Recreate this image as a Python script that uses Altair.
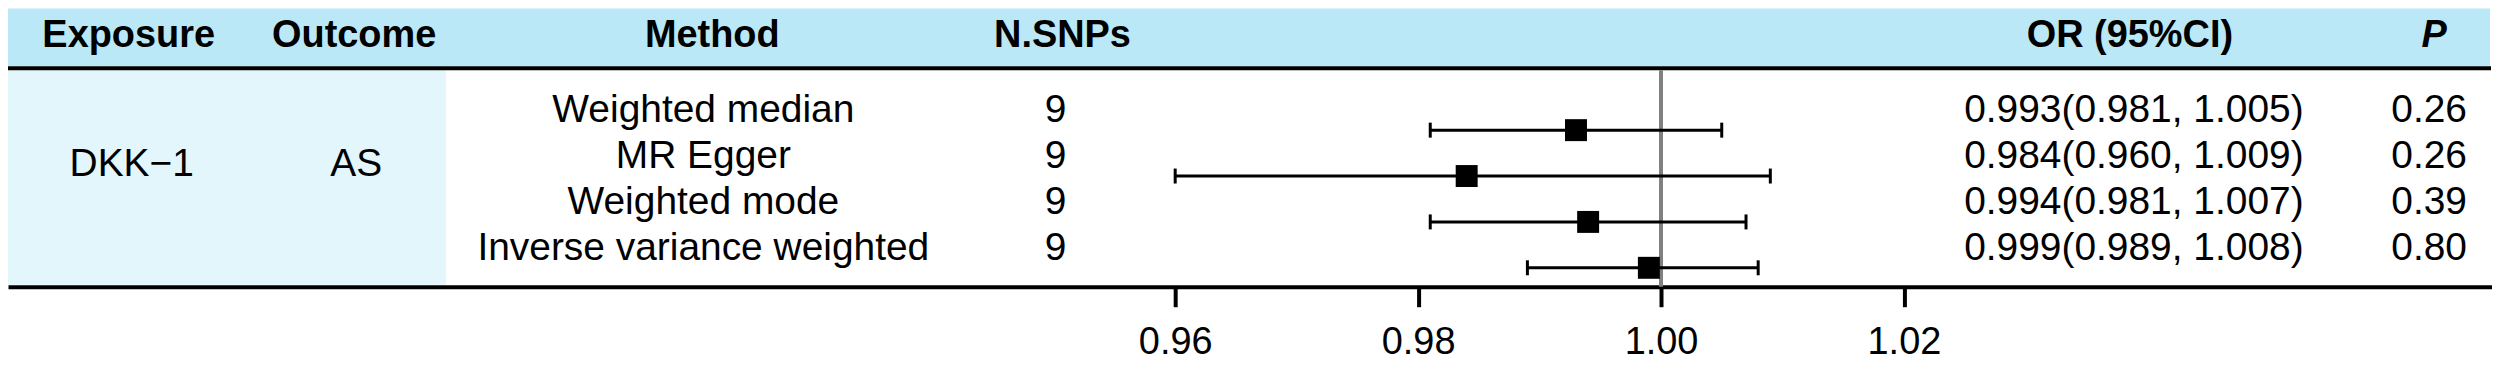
import altair as alt
import pandas as pd

# ---- data ----
methods = ["Weighted median", "MR Egger", "Weighted mode", "Inverse variance weighted"]
n_snps = [9, 9, 9, 9]
or_vals = [0.993, 0.984, 0.994, 0.999]
ci_low = [0.981, 0.960, 0.981, 0.989]
ci_high = [1.005, 1.009, 1.007, 1.008]
p_vals = ["0.26", "0.26", "0.39", "0.80"]
exposure = "DKK\u22121"
outcome = "AS"
headers = ["Exposure", "Outcome", "Method", "N.SNPs", "OR (95%CI)", "P"]
x_ticks = [0.96, 0.98, 1.00, 1.02]

# ---- layout (pixels inside the chart) ----
W, H = 2490, 279
FONT = "Liberation Sans"
HEADER_X = [121, 347, 706, 1057, 2127, 2432]
COL_X = {"exposure": 124, "outcome": 349, "method": 697, "n": 1050, "ci": 2131, "p": 2427}

df = pd.DataFrame({
    "row": list(range(len(methods))),
    "method": methods,
    "n": [str(v) for v in n_snps],
    "or": or_vals,
    "lo": ci_low,
    "hi": ci_high,
    "p": p_vals,
})
df["ci_text"] = [f"{o:.3f}({l:.3f}, {h:.3f})" for o, l, h in zip(or_vals, ci_low, ci_high)]

xscale = alt.Scale(domain=[0.863901, 1.068419], nice=False, zero=False)
yscale = alt.Scale(domain=[-2.65217, 3.41304], reverse=True, nice=False, zero=False)
AX = alt.Axis(values=x_ticks, format=".2f", title=None, grid=False,
              domainColor="black", domainWidth=4, tickColor="black", tickWidth=4, tickSize=20,
              labelFontSize=38, labelFont=FONT, labelColor="black", labelPadding=17)
Y = alt.Y("row:Q", scale=yscale, axis=None)

def X(field):
    return alt.X(field, scale=xscale, axis=AX)

one = alt.Chart(pd.DataFrame({"k": [0]}))

band = one.mark_rect(color="#BAE8F7").encode(
    x=alt.value(0), x2=alt.value(2488), y=alt.value(0), y2=alt.value(58))
cell = one.mark_rect(color="#E3F6FC").encode(
    x=alt.value(0), x2=alt.value(439), y=alt.value(62), y2=alt.value(277))
hline = one.mark_rule(color="black", strokeWidth=4).encode(
    x=alt.value(0), x2=alt.value(2489), y=alt.value(60))

refline = alt.Chart(pd.DataFrame({"v": [1.0]})).mark_rule(color="#808080", strokeWidth=4).encode(
    x=X("v:Q"), y=alt.value(62), y2=alt.value(H))

base = alt.Chart(df)
ci = base.mark_rule(color="black", strokeWidth=3).encode(x=X("lo:Q"), x2="hi:Q", y=Y)
cap_lo = base.mark_tick(orient="vertical", size=15, thickness=3, color="black", opacity=1).encode(
    x=X("lo:Q"), y=Y)
cap_hi = base.mark_tick(orient="vertical", size=15, thickness=3, color="black", opacity=1).encode(
    x=X("hi:Q"), y=Y)
pts = base.mark_square(size=484, color="black", opacity=1, filled=True).encode(
    x=X("or:Q"), y=Y)

def col_text(field, xpos):
    return base.mark_text(font=FONT, fontSize=39, color="black", align="center",
                          baseline="middle", dy=-20).encode(
        x=alt.value(xpos), y=Y, text=f"{field}:N")

texts = [col_text("method", COL_X["method"]), col_text("n", COL_X["n"]),
         col_text("ci_text", COL_X["ci"]), col_text("p", COL_X["p"])]

head_layers = []
for label, xp in zip(headers, HEADER_X):
    head_layers.append(one.mark_text(
        text=label, font=FONT, fontSize=38, fontWeight="bold",
        fontStyle="italic" if label == "P" else "normal",
        color="black", align="center", baseline="middle").encode(
        x=alt.value(xp), y=alt.value(28)))

exp_t = one.mark_text(text=exposure, font=FONT, fontSize=39, color="black",
                      align="center", baseline="middle").encode(
    x=alt.value(COL_X["exposure"]), y=alt.value(156))
out_t = one.mark_text(text=outcome, font=FONT, fontSize=39, color="black",
                      align="center", baseline="middle").encode(
    x=alt.value(COL_X["outcome"]), y=alt.value(156))

chart = alt.layer(
    band, cell, hline, refline, ci, cap_lo, cap_hi, pts, *texts, *head_layers, exp_t, out_t
).properties(
    width=W, height=H,
    autosize=alt.AutoSizeParams(type="none"),
    padding={"left": 0, "right": 0, "top": 0, "bottom": 84},
    background="white",
).configure_view(strokeWidth=0)

chart.save("out.html", embed_options={"renderer": "svg", "actions": False})
